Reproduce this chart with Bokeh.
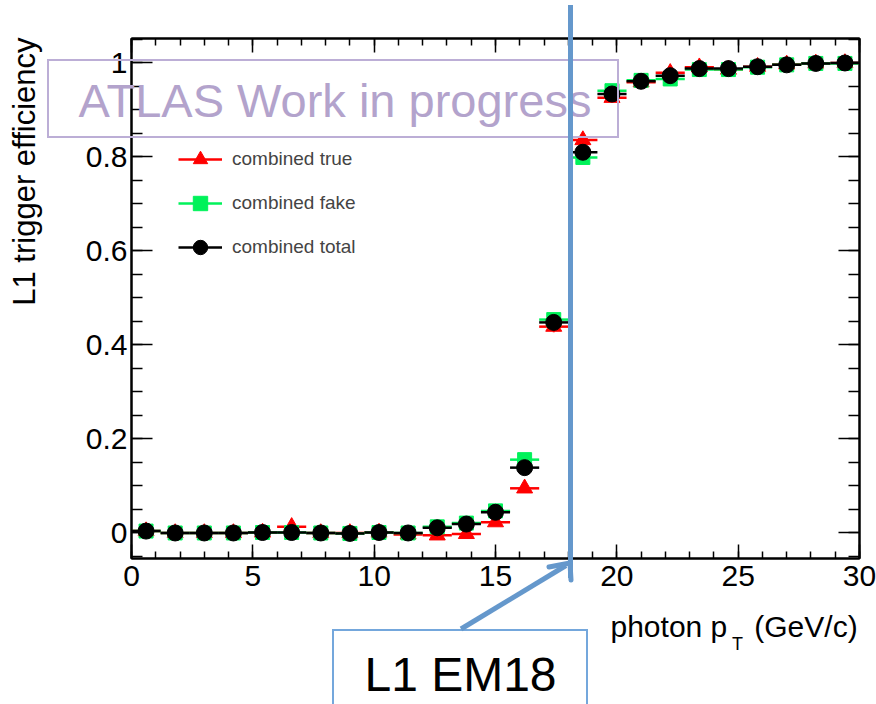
from bokeh.plotting import figure
from bokeh.models import (Range1d, FixedTicker, LinearAxis, Label, GridBox, Div,
                          Legend, LegendItem, ColumnDataSource, CustomJSTickFormatter)
from bokeh.embed import file_html
from bokeh.resources import INLINE

# ---------------- data ----------------
bin_centers = [0.6, 1.8, 3.0, 4.2, 5.4, 6.6, 7.8, 9.0, 10.2, 11.4, 12.6, 13.8, 15.0,
               16.2, 17.4, 18.6, 19.8, 21.0, 22.2, 23.4, 24.6, 25.8, 27.0, 28.2, 29.4]
bin_half_width = 0.6

eff_true = [0.003, -0.001, -0.001, -0.001, 0.0, 0.012, -0.001, -0.001, 0.0, -0.004,
            -0.006, -0.003, 0.022, 0.094, 0.438, 0.835, 0.925, 0.958, 0.978, 0.990,
            0.985, 0.991, 0.996, 0.998, 0.999]
err_true = [0.003, 0.002, 0.002, 0.002, 0.002, 0.010, 0.002, 0.002, 0.002, 0.003,
            0.004, 0.004, 0.006, 0.008, 0.012, 0.012, 0.008, 0.006, 0.006, 0.004,
            0.004, 0.003, 0.002, 0.002, 0.002]

eff_fake = [0.003, -0.001, -0.001, -0.001, 0.0, 0.0, -0.001, -0.002, 0.0, -0.001,
            0.012, 0.020, 0.046, 0.155, 0.453, 0.798, 0.940, 0.962, 0.965, 0.985,
            0.985, 0.990, 0.995, 0.998, 0.998]
err_fake = [0.002, 0.001, 0.001, 0.001, 0.001, 0.002, 0.001, 0.001, 0.001, 0.002,
            0.003, 0.003, 0.004, 0.006, 0.008, 0.007, 0.005, 0.004, 0.004, 0.003,
            0.003, 0.002, 0.002, 0.001, 0.001]

eff_total = [0.003, -0.001, -0.001, -0.001, 0.0, 0.0, -0.001, -0.002, 0.0, -0.001,
             0.010, 0.018, 0.043, 0.138, 0.447, 0.809, 0.933, 0.960, 0.972, 0.987,
             0.987, 0.991, 0.995, 0.998, 0.999]
err_total = [0.002, 0.001, 0.001, 0.001, 0.001, 0.002, 0.001, 0.001, 0.001, 0.002,
             0.003, 0.003, 0.004, 0.006, 0.007, 0.006, 0.004, 0.003, 0.003, 0.002,
             0.002, 0.002, 0.001, 0.001, 0.001]

series_labels = ["combined true", "combined fake", "combined total"]

x_tick_values = [0, 5, 10, 15, 20, 25, 30]
x_tick_labels = ["0", "5", "10", "15", "20", "25", "30"]
y_tick_values = [0.0, 0.2, 0.4, 0.6, 0.8, 1.0]
y_tick_labels = ["0", "0.2", "0.4", "0.6", "0.8", "1"]

# ---------------- layout geometry (pixels) ----------------
W, H = 876, 704
FL, FR, FT, FB = 131, 859, 38, 558
X0, X1 = 0.0, 30.0
Y_AT_0_PX, Y_AT_1_PX = 532.0, 62.0
ppy = Y_AT_0_PX - Y_AT_1_PX
Y0 = (Y_AT_0_PX - FB) / ppy
Y1 = (Y_AT_0_PX - FT) / ppy


def dx(px):
    return X0 + (px - FL) / (FR - FL) * (X1 - X0)


def dy(py):
    return (Y_AT_0_PX - py) / ppy


FONT = "Liberation Sans"
RED = "#ff0000"
GREEN = "#00f25a"
BLACK = "#000000"
BLUE = "#6598cc"
BOX_BLUE = "#74a7dc"
LAV_TEXT = "#b3a3cc"
LAV_BOX = "#bcaed6"
MID = 0.3465  # baseline offset of a "middle"-anchored label, in font sizes

p = figure(width=W, height=H, x_range=Range1d(X0, X1), y_range=Range1d(Y0, Y1),
           output_backend="svg", toolbar_location=None,
           min_border_left=FL, min_border_right=W - FR,
           min_border_top=FT, min_border_bottom=H - FB)
p.xgrid.grid_line_color = None
p.ygrid.grid_line_color = None
p.outline_line_color = "black"
p.outline_line_width = 2
p.background_fill_color = "white"
p.border_fill_color = "white"

x_minor = [float(v) for v in range(0, 31)]
y_minor = [round(-0.05 + 0.05 * i, 2) for i in range(0, 23)]

yfmt = CustomJSTickFormatter(args=dict(vals=y_tick_values, labs=y_tick_labels), code="""
for (let i = 0; i < vals.length; i++) { if (Math.abs(vals[i] - tick) < 1e-9) return labs[i]; }
return "";
""")
xfmt = CustomJSTickFormatter(args=dict(vals=x_tick_values, labs=x_tick_labels), code="""
for (let i = 0; i < vals.length; i++) { if (Math.abs(vals[i] - tick) < 1e-9) return labs[i]; }
return "";
""")


def style(ax, vals, minors, tin, mtin, show, fmt, standoff):
    ax.ticker = FixedTicker(ticks=vals, minor_ticks=minors)
    ax.formatter = fmt
    ax.major_tick_in = tin
    ax.major_tick_out = 0
    ax.minor_tick_in = mtin
    ax.minor_tick_out = 0
    ax.major_tick_line_width = 1.5
    ax.minor_tick_line_width = 1.5
    ax.axis_line_width = 2
    ax.major_label_text_font = FONT
    ax.major_label_text_font_size = "30px"
    ax.major_label_text_color = "black"
    ax.major_label_standoff = standoff
    if not show:
        ax.major_label_text_alpha = 0
        ax.major_label_text_font_size = "0px"


style(p.xaxis[0], x_tick_values, x_minor, 14, 7, True, xfmt, 7)
style(p.yaxis[0], y_tick_values, y_minor, 21, 11, True, yfmt, 4)
top_ax = LinearAxis()
right_ax = LinearAxis()
style(top_ax, x_tick_values, x_minor, 14, 7, False, xfmt, 0)
style(right_ax, y_tick_values, y_minor, 21, 11, False, yfmt, 0)
p.add_layout(top_ax, "above")
p.add_layout(right_ax, "right")

# ---------------- data glyphs ----------------
series = [
    (eff_true, err_true, RED, "triangle", 16),
    (eff_fake, err_fake, GREEN, "square", 14),
    (eff_total, err_total, BLACK, "circle", 16),
]
items = []
for (vals, errs, col, mk, sz), lab in zip(series, series_labels):
    src = ColumnDataSource(dict(
        x=bin_centers, y=vals,
        xl=[c - bin_half_width for c in bin_centers],
        xr=[c + bin_half_width for c in bin_centers],
        lo=[v - e for v, e in zip(vals, errs)],
        hi=[v + e for v, e in zip(vals, errs)],
    ))
    hs = p.segment(x0="xl", y0="y", x1="xr", y1="y", source=src, line_color=col, line_width=2.5)
    p.segment(x0="x", y0="lo", x1="x", y1="hi", source=src, line_color=col, line_width=2)
    sc = p.scatter("x", "y", source=src, marker=mk, size=sz, fill_color=col, line_color=col)
    items.append(LegendItem(label=lab, renderers=[hs, sc]))

legend = Legend(items=items, location=(47, 293), padding=0, margin=0,
                border_line_color=None, background_fill_alpha=0,
                glyph_width=44, glyph_height=36, label_height=36, label_standoff=10,
                spacing=8, label_text_font=FONT, label_text_font_size="19px")
p.add_layout(legend)

# Texts outside the frame live in side panels (labels there are not clipped);
# they are spread over the panels so that each stays within its border.


def label(text, px, py_base, size, panel, color="black", align="left", angle=0.0):
    if angle:
        x, y = dx(px - MID * size), dy(py_base)
    else:
        x, y = dx(px), dy(py_base - MID * size)
    p.add_layout(Label(x=x, y=y, text=text, angle=angle, text_align=align,
                       text_baseline="middle", text_font=FONT,
                       text_font_size=f"{size}px", text_color=color), panel)


label("ATLAS Work in progress", 334.5, 116, 47, "below", color=LAV_TEXT, align="center")
label("L1 trigger efficiency", 35, 37, 31, "left", align="right", angle=1.5707963)
label("photon p\u2002\u2009\u2009(GeV/c)", 610, 636, 30, "above")
label("T", 731.5, 650, 18, "left")
label("L1 EM18", 460, 691, 48, "below", align="center")

# ---------------- transparent overlay with the annotation strokes ----------------
# (boxes, threshold line and arrow cross the plot frame, where plot annotations are clipped)
A_L, A_R, A_T, A_B = 48, 618, 60, 137          # ATLAS box
B_L, B_R, B_T, B_B = 333, 587, 630, 720        # L1 EM18 box, open below the page
TH_X, TH_TOP, TH_BOT = 570.5, 5, 578           # threshold line
ARROW = [(461, 629), (566, 565.5)]
HEAD = [((570, 563), (549, 567)), ((570, 563), (571, 580))]

shapes = [
    f'<rect x="{A_L}" y="{A_T}" width="{A_R - A_L}" height="{A_B - A_T}" fill="none" '
    f'stroke="{LAV_BOX}" stroke-width="2"/>',
    f'<polyline points="{B_L},{B_B} {B_L},{B_T} {B_R},{B_T} {B_R},{B_B}" fill="none" '
    f'stroke="{BOX_BLUE}" stroke-width="2"/>',
    f'<line x1="{TH_X}" y1="{TH_TOP}" x2="{TH_X}" y2="{TH_BOT}" stroke="{BLUE}" stroke-width="5"/>',
    f'<line x1="{ARROW[0][0]}" y1="{ARROW[0][1]}" x2="{ARROW[1][0]}" y2="{ARROW[1][1]}" '
    f'stroke="{BLUE}" stroke-width="5"/>',
]
for a, b in HEAD:
    shapes.append(f'<line x1="{a[0]}" y1="{a[1]}" x2="{b[0]}" y2="{b[1]}" stroke="{BLUE}" '
                  f'stroke-width="5" stroke-linecap="round"/>')
svg = (f'<svg xmlns="http://www.w3.org/2000/svg" width="{W}" height="{H}" '
       f'style="display:block;position:absolute;left:0;top:0;overflow:visible">'
       + "".join(shapes) + '</svg>')
overlay = Div(text=svg, width=W, height=H, margin=0,
              styles={"pointer-events": "none", "padding": "0", "margin": "0"})

grid = GridBox(children=[(p, 0, 0), (overlay, 0, 0)], spacing=0)

open("out.html", "w").write(file_html(grid, INLINE))
